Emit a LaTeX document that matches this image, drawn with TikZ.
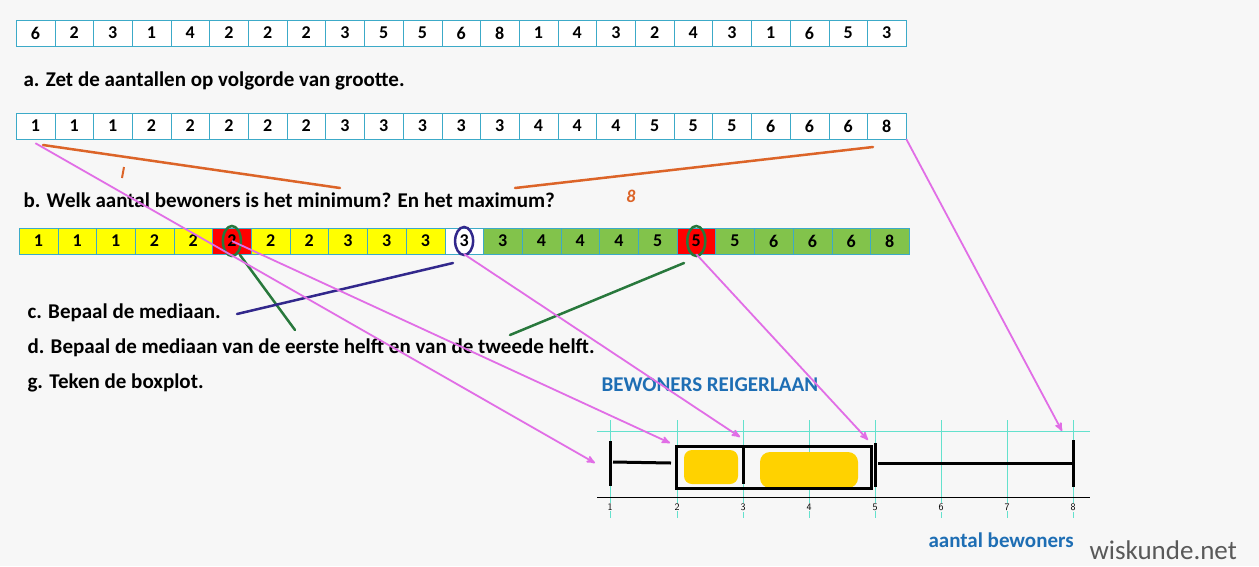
\documentclass[tikz,border=0pt]{standalone}
\usepackage{fontspec}
\setmainfont{Carlito}
\usetikzlibrary{arrows}
\definecolor{cellline}{RGB}{60,170,200}
\definecolor{pinkarr}{RGB}{225,110,230}
\definecolor{orangepen}{RGB}{220,100,40}
\definecolor{greenpen}{RGB}{40,120,60}
\definecolor{bluepen}{RGB}{50,40,140}
\definecolor{titleblue}{RGB}{30,110,180}
\definecolor{cellgreen}{RGB}{130,195,75}
\definecolor{cellyellow}{RGB}{255,255,0}
\definecolor{gridcyan}{RGB}{100,225,205}
\definecolor{blob}{RGB}{255,210,0}
\begin{document}
\begin{tikzpicture}[x=1pt,y=-1pt,>=stealth',
  cell/.style={draw=cellline,minimum width=38.7pt,minimum height=26pt,inner sep=0pt,font=\bfseries\fontsize{18}{18}\selectfont},
  task/.style={anchor=west,font=\bfseries\fontsize{21}{21}\selectfont},
  pen/.style={line width=2.5pt,line cap=round},
  pink/.style={->,pinkarr,line width=1.8pt},
  bar/.style={line width=3pt}]

  \fill[white!97!black] (0,0) rectangle (1259,566);

  % row of data
  \foreach \v [count=\i from 0] in {6,2,3,1,4,2,2,2,3,5,5,6,8,1,4,3,2,4,3,1,6,5,3}
    \node[cell,fill=white] (a\i) at (35.4+38.7*\i,33) {\v};
  \node[task] (ta) at (20,81) {a. Zet de aantallen op volgorde van grootte.};

  % sorted row
  \foreach \v [count=\i from 0] in {1,1,1,2,2,2,2,2,3,3,3,3,3,4,4,4,5,5,5,6,6,6,8}
    \node[cell,fill=white] (s\i) at (35.4+38.7*\i,126) {\v};
  \node[task] (tb) at (20,200) {b. Welk aantal bewoners is het minimum? En het maximum?};

  % coloured row
  \foreach \v/\c [count=\i from 0] in {1/cellyellow,1/cellyellow,1/cellyellow,2/cellyellow,2/cellyellow,2/red,2/cellyellow,2/cellyellow,3/cellyellow,3/cellyellow,3/cellyellow,3/white,3/cellgreen,4/cellgreen,4/cellgreen,4/cellgreen,5/cellgreen,5/red,5/cellgreen,6/cellgreen,6/cellgreen,6/cellgreen,8/cellgreen}
    \node[cell,fill=\c] (c\i) at (38.4+38.7*\i,241) {\v};

  \node[task] (tc) at (24,313) {c. Bepaal de mediaan.};
  \node[task] (td) at (24,348) {d. Bepaal de mediaan van de eerste helft en van de tweede helft.};
  \node[task] (tg) at (24,383) {g. Teken de boxplot.};
  \node[task,text=titleblue] (title) at (598,385) {BEWONERS REIGERLAAN};
  \node[task,text=titleblue] (xlab) at (925,540) {aantal bewoners};
  \node[anchor=west,text=black!65,font=\fontsize{27}{27}\selectfont] (logo) at (1086,550) {wiskunde.net};

  % grid of the boxplot
  \foreach \k [count=\n] in {610,677,743,809,875,941,1007,1073} {
    \draw[gridcyan,line width=1pt] (\k,420) -- (\k,518);
    \node[fill=white!97!black,inner sep=1pt,font=\sffamily\fontsize{10}{10}\selectfont] (n\n) at (\k,507) {\n};
  }
  \draw[gridcyan,line width=1pt] (597,431) -- (1090,431);
  \draw[thick] (597,497) -- (1090,497);

  % yellow colouring
  \fill[blob,rounded corners=8pt] (684,450) rectangle (738,484);
  \fill[blob,rounded corners=10pt] (760,452) rectangle (858,488);

  % boxplot
  \draw[bar] (610,441) -- (610,486);
  \draw[bar] (613,462) -- (671,463);
  \draw[bar] (676,446) rectangle (871,488);
  \draw[bar] (743,446) -- (743,484);
  \draw[bar] (875,443) -- (875,487);
  \draw[bar] (878,463) -- (1073,463);
  \draw[bar] (1073,440) -- (1073,487);

  % pen annotations
  \draw[pen,orangepen] (43,145) -- (340,188);
  \draw[pen,orangepen] (515,188) -- (873,147);
  \draw[orangepen,line width=2pt] (124,167) -- (122,178);
  \node[text=orangepen,font=\bfseries\itshape\fontsize{18}{18}\selectfont] (eight) at (631,196) {8};
  \draw[greenpen,line width=2.5pt] (c5) ellipse (9pt and 15pt);
  \draw[greenpen,line width=2.5pt] (c17) ellipse (9pt and 15pt);
  \draw[bluepen,line width=2.5pt] (c11) ellipse (9pt and 14pt);
  \draw[pen,greenpen] (240,255) -- (295,330);
  \draw[pen,greenpen] (684,263) -- (510,335);
  \draw[pen,bluepen] (453,263) -- (237,314);

  % arrows to the boxplot
  \draw[pink] (s0.south) ++(0,4) -- (595,463);
  \draw[pink] (c5.center) -- (670,443);
  \draw[pink] (c11.south) -- (740,437);
  \draw[pink] (c17.south) -- (868,440);
  \draw[pink] (s22.south east) -- (1062,431);
\end{tikzpicture}
\end{document}
